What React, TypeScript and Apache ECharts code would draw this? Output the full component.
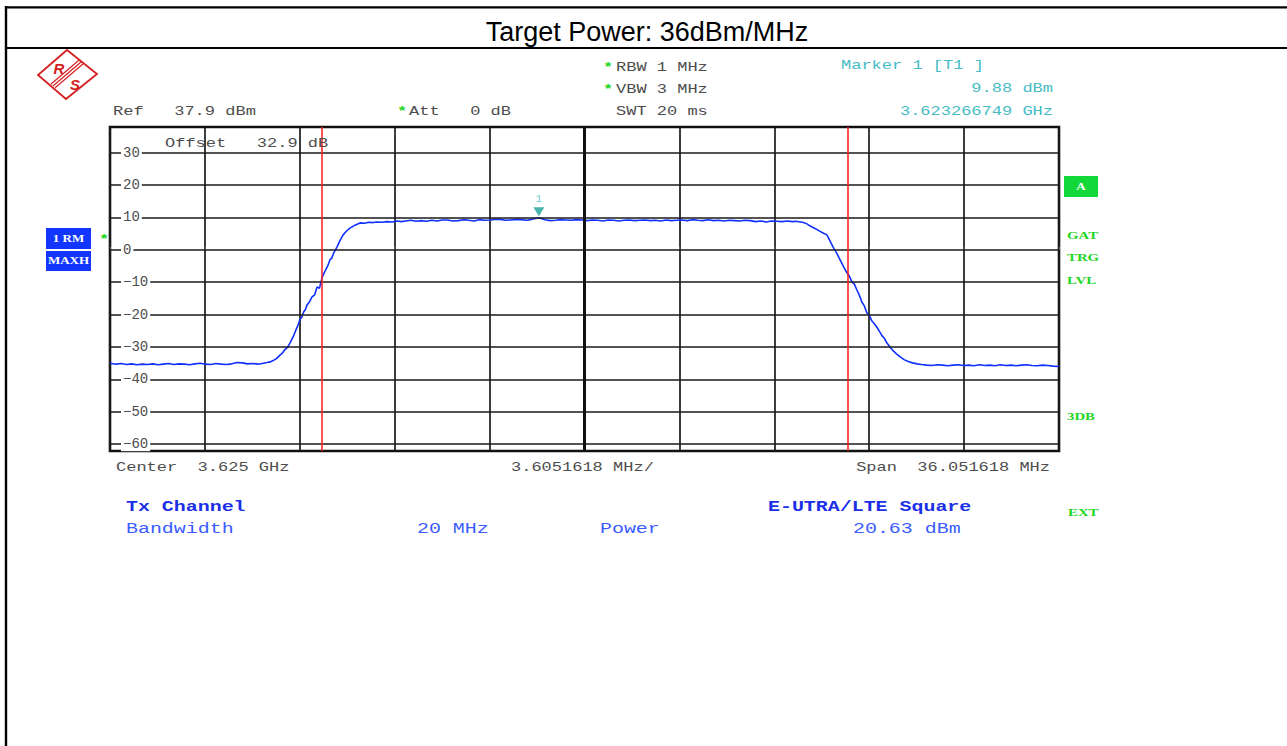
import React, { useEffect, useRef } from "react";
import * as echarts from "echarts";

// ---- data ----
const CENTER_MHZ = 3625;
const DIV_MHZ = 3.6051618; // span 36.051618 MHz / 10 divisions
const REF_LEVEL = 37.9;
const RANGE_DB = 100;
const Y_TICKS = [30, 20, 10, 0, -10, -20, -30, -40, -50, -60];
const CHANNEL_EDGES = [3615, 3635];
const MARKER_FREQ = 3623.266749;
const MARKER_LEVEL = 9.88;

const traceFreqs = [
  3606.98, 3607.2, 3607.4, 3607.6, 3607.8, 3608.0, 3608.2, 3608.4, 3608.6, 3608.8, 3609.0, 3609.2, 3609.4, 3609.6, 3609.8,
  3610.0, 3610.2, 3610.4, 3610.6, 3610.8, 3611.0, 3611.2, 3611.4, 3611.6, 3611.8, 3612.0, 3612.2, 3612.4, 3612.6, 3612.8,
  3612.94, 3613.06, 3613.17, 3613.3, 3613.43, 3613.52, 3613.62, 3613.72, 3613.81, 3613.93, 3614.05, 3614.12, 3614.19,
  3614.26, 3614.33, 3614.4, 3614.46, 3614.55, 3614.65, 3614.75, 3614.84, 3614.93, 3615.03,
  3615.1, 3615.18, 3615.25, 3615.33, 3615.4, 3615.47, 3615.6, 3615.72, 3615.83, 3615.96, 3616.09, 3616.28, 3616.47,
  3616.65, 3616.8, 3616.96, 3617.12, 3617.3, 3617.5, 3617.7, 3617.88,
  3618.05, 3618.2, 3618.4, 3618.6, 3618.8, 3619.0, 3619.2, 3619.4, 3619.6, 3619.8, 3620.0, 3620.2, 3620.4, 3620.6, 3620.8,
  3621.0, 3621.2, 3621.4, 3621.6, 3621.8, 3622.0, 3622.2, 3622.4, 3622.6, 3622.8, 3623.0, 3623.27, 3623.5,
  3623.7, 3623.9, 3624.1, 3624.3, 3624.5, 3624.7, 3624.9, 3625.1, 3625.3, 3625.5, 3625.7, 3625.9, 3626.1, 3626.3, 3626.5,
  3626.7, 3626.9, 3627.1, 3627.3, 3627.5, 3627.7, 3627.9, 3628.1, 3628.3, 3628.5, 3628.7, 3628.9, 3629.1, 3629.3, 3629.5,
  3629.7, 3629.9, 3630.1, 3630.3, 3630.5, 3630.7, 3630.9, 3631.1, 3631.3, 3631.5, 3631.7, 3631.9, 3632.1, 3632.3, 3632.5,
  3632.7, 3632.9, 3633.05,
  3633.19, 3633.32, 3633.45, 3633.56, 3633.68, 3633.82, 3633.95, 3634.08, 3634.21, 3634.32, 3634.44, 3634.58, 3634.71,
  3634.84, 3634.97, 3635.06, 3635.16, 3635.25, 3635.35, 3635.44, 3635.54, 3635.63, 3635.73, 3635.82, 3635.92, 3636.01,
  3636.11, 3636.2, 3636.3, 3636.4, 3636.49, 3636.6, 3636.73, 3636.85, 3636.98, 3637.14, 3637.3, 3637.46, 3637.63,
  3637.8, 3638.0, 3638.2, 3638.4, 3638.6, 3638.8, 3639.0, 3639.2, 3639.4, 3639.6, 3639.8, 3640.0, 3640.2, 3640.4, 3640.6,
  3640.8, 3641.0, 3641.2, 3641.4, 3641.6, 3641.8, 3642.0, 3642.2, 3642.4, 3642.6, 3642.8, 3643.02,
];
const traceLevels = [
  -35.0, -35.3, -35.1, -35.4, -35.2, -35.5, -35.3, -35.4, -35.2, -35.5, -35.3, -35.1, -35.4, -35.2, -35.3,
  -35.5, -35.2, -35.0, -35.3, -35.4, -35.1, -35.3, -35.4, -35.2, -34.8, -34.9, -35.2, -35.1, -35.3, -35.0,
  -34.8, -34.6, -34.2, -33.6, -32.5, -31.9, -30.8, -30.1, -28.8, -26.9, -24.5, -23.2, -21.5,
  -20.8, -19.2, -18.4, -17.0, -16.1, -14.5, -13.9, -11.5, -11.9, -8.6,
  -7.3, -6.0, -4.9, -3.1, -2.5, -1.0, 0.9, 3.0, 4.6, 5.8, 6.7, 7.6, 8.3,
  8.2, 8.5, 8.4, 8.6, 8.5, 8.7, 8.6, 8.9,
  8.7, 8.9, 9.1, 8.8, 9.0, 8.8, 9.1, 8.9, 9.2, 9.2, 8.9, 9.0, 9.3, 9.1, 8.9,
  9.3, 9.1, 9.2, 9.4, 9.4, 9.1, 9.2, 9.4, 9.3, 9.1, 9.4, 9.88, 9.3,
  9.0, 9.1, 9.3, 9.2, 9.1, 9.3, 9.2, 9.0, 9.2, 9.1, 8.9, 9.2, 9.1, 8.9, 9.1,
  9.2, 9.0, 9.1, 9.2, 9.0, 9.1, 8.9, 9.2, 9.0, 9.1, 9.2, 9.0, 9.3, 9.1, 9.0,
  9.3, 9.0, 9.1, 8.9, 9.1, 9.0, 8.9, 9.1, 9.0, 8.7, 8.9, 8.6, 8.9, 8.8, 8.7,
  8.9, 8.7, 8.8,
  8.6, 8.4, 8.0, 7.4, 6.9, 6.3, 5.7, 5.1, 4.6, 2.8, 0.9, -1.0, -3.1,
  -5.2, -7.1, -8.1, -9.9, -10.6, -12.4, -14.0, -16.2, -17.3, -19.5, -20.2, -22.0, -22.8,
  -23.9, -25.1, -26.5, -27.4, -28.8, -29.9, -31.2, -32.1, -33.0, -33.9, -34.5, -34.9, -35.2,
  -35.4, -35.6, -35.7, -35.5, -35.6, -35.8, -35.6, -35.5, -35.7, -35.6, -35.8, -35.5, -35.7, -35.6, -35.8,
  -35.5, -35.7, -35.6, -35.8, -35.6, -35.5, -35.7, -35.8, -35.6, -35.7, -35.9, -36.0,
];

const MONO = '"Liberation Mono", "DejaVu Sans Mono", monospace';
const GRAY = "#4d4d4d";
const TEAL = "#45bcc4";
const GREEN = "#22d622";
const BLUE_B = "#1a2fe6";
const BLUE_L = "#3a5cff";
const RED = "#d42020";

function mono(text: string, x: number, y: number, fill: string, opts: any = {}) {
  const size = opts.size ?? 13;
  return {
    type: "text",
    x,
    y,
    scaleX: opts.scaleX ?? 1.31,
    z: 50,
    style: {
      text,
      fill,
      font: `${opts.bold ? "bold " : ""}${size}px ${opts.family ?? MONO}`,
      textAlign: opts.align ?? "left",
      verticalAlign: "middle",
      textVerticalAlign: "middle",
    },
  };
}

function badge(text: string, x: number, y: number, w: number, h: number, bg: string) {
  return [
    { type: "rect", shape: { x, y, width: w, height: h }, style: { fill: bg }, z: 50 },
    {
      type: "text",
      x: x + w / 2,
      y: y + h / 2,
      scaleX: 1.3,
      z: 51,
      style: {
        text,
        fill: "#ffffff",
        font: 'bold 10px "Liberation Serif", serif',
        textAlign: "center",
        verticalAlign: "middle",
        textVerticalAlign: "middle",
      },
    },
  ];
}

function sideLabel(text: string, x: number, y: number) {
  return {
    type: "text",
    x,
    y,
    scaleX: 1.35,
    z: 50,
    style: {
      text,
      fill: GREEN,
      font: 'bold 11px "Liberation Serif", serif',
      textAlign: "left",
      verticalAlign: "middle",
      textVerticalAlign: "middle",
    },
  };
}

export default function App() {
  const ref = useRef<HTMLDivElement>(null);

  useEffect(() => {
    if (!ref.current) return;
    const chart = echarts.init(ref.current, undefined, { renderer: "svg" });

    const traceData = traceFreqs.map((f, i) => [f - CENTER_MHZ, traceLevels[i]]);

    // logo stripes
    const stripeBase = [
      [81, 62],
      [53, 86],
    ];
    const stripes = [-2.8, 0, 2.8].map((o) => ({
      type: "line",
      z: 50,
      shape: {
        x1: stripeBase[0][0] + o * 0.77,
        y1: stripeBase[0][1] + o * 0.64,
        x2: stripeBase[1][0] + o * 0.77,
        y2: stripeBase[1][1] + o * 0.64,
      },
      style: { stroke: RED, lineWidth: 1.2 },
    }));

    const graphic: any[] = [
      // page frame
      { type: "line", shape: { x1: 6, y1: 6, x2: 6, y2: 746 }, style: { stroke: "#000", lineWidth: 2.4 } },
      { type: "line", shape: { x1: 5, y1: 7.3, x2: 1287, y2: 7.3 }, style: { stroke: "#000", lineWidth: 2.2 } },
      { type: "line", shape: { x1: 5, y1: 48, x2: 1287, y2: 48 }, style: { stroke: "#000", lineWidth: 2.2 } },
      {
        type: "text",
        x: 647,
        y: 32,
        style: {
          text: "Target Power: 36dBm/MHz",
          fill: "#000",
          font: '27px "Liberation Sans", Arial, sans-serif',
          textAlign: "center",
          verticalAlign: "middle",
          textVerticalAlign: "middle",
        },
      },
      // logo
      {
        type: "polygon",
        z: 50,
        shape: { points: [[67, 50], [97, 74], [66, 99], [38, 75]] },
        style: { fill: "none", stroke: RED, lineWidth: 1.8 },
      },
      ...stripes,
      {
        type: "text",
        x: 59,
        y: 68,
        z: 50,
        style: { text: "R", fill: RED, font: 'bold italic 15px "Liberation Sans", sans-serif', textAlign: "center", verticalAlign: "middle", textVerticalAlign: "middle" },
      },
      {
        type: "text",
        x: 75,
        y: 84,
        z: 50,
        style: { text: "S", fill: RED, font: 'bold italic 15px "Liberation Sans", sans-serif', textAlign: "center", verticalAlign: "middle", textVerticalAlign: "middle" },
      },
      // header
      mono("Ref   37.9 dBm", 113, 112, GRAY),
      mono("*", 397, 112, GREEN, { bold: true }),
      mono("Att   0 dB", 409, 112, GRAY),
      mono("*", 603, 68, GREEN, { bold: true }),
      mono("RBW 1 MHz", 616, 68, GRAY),
      mono("*", 603, 90, GREEN, { bold: true }),
      mono("VBW 3 MHz", 616, 90, GRAY),
      mono("SWT 20 ms", 616, 112, GRAY),
      mono("Marker 1 [T1 ]", 841, 66, TEAL),
      mono("9.88 dBm", 1053, 89, TEAL, { align: "right" }),
      mono("3.623266749 GHz", 1053, 112, TEAL, { align: "right" }),
      mono("Offset   32.9 dB", 165, 144, GRAY),
      // left badges
      ...badge("1 RM", 46, 228, 45, 21, "#1236ff"),
      ...badge("MAXH", 46, 251, 45, 20, "#1236ff"),
      mono("*", 99, 240, GREEN, { bold: true }),
      // right labels
      ...badge("A", 1064, 176, 34, 21, "#12d83a"),
      sideLabel("GAT", 1067, 235),
      sideLabel("TRG", 1067, 257),
      sideLabel("LVL", 1067, 280),
      sideLabel("3DB", 1067, 416),
      sideLabel("EXT", 1068, 512),
      // footer
      mono("Center  3.625 GHz", 116, 468, GRAY),
      mono("3.6051618 MHz/", 511, 468, GRAY),
      mono("Span  36.051618 MHz", 1050, 468, GRAY, { align: "right" }),
      mono("Tx Channel", 126, 507, BLUE_B, { bold: true, size: 15, scaleX: 1.33 }),
      mono("E-UTRA/LTE Square", 768, 507, BLUE_B, { bold: true, size: 15, scaleX: 1.33 }),
      mono("Bandwidth", 126, 529, BLUE_L, { size: 15, scaleX: 1.33 }),
      mono("20 MHz", 417, 529, BLUE_L, { size: 15, scaleX: 1.33 }),
      mono("Power", 600, 529, BLUE_L, { size: 15, scaleX: 1.33 }),
      mono("20.63 dBm", 853, 529, BLUE_L, { size: 15, scaleX: 1.33 }),
    ];

    const option: any = {
      animation: false,
      backgroundColor: "#ffffff",
      grid: {
        left: 110,
        top: 127,
        width: 949,
        height: 324,
        show: true,
        borderColor: "#111",
        borderWidth: 2.6,
        backgroundColor: "transparent",
      },
      xAxis: {
        type: "value",
        min: -5 * DIV_MHZ,
        max: 5 * DIV_MHZ,
        interval: DIV_MHZ,
        axisLine: { show: false },
        axisLabel: { show: false },
        axisTick: { show: true, inside: true, length: 3, lineStyle: { color: "#666", width: 1 } },
        splitLine: { show: true, lineStyle: { color: "#1a1a1a", width: 1.7 } },
      },
      yAxis: {
        type: "value",
        min: REF_LEVEL - RANGE_DB,
        max: REF_LEVEL,
        z: 10,
        axisLine: { show: false },
        axisTick: { show: false },
        splitLine: { show: false },
        axisLabel: {
          customValues: Y_TICKS,
          inside: true,
          margin: 11,
          color: GRAY,
          fontFamily: MONO,
          fontSize: 14,
          backgroundColor: "#ffffff",
          padding: [0, 2, 0, 2],
          formatter: (v: number) => (v < 0 ? "\u2212" + Math.abs(v) : String(v)),
        },
      },
      graphic,
      series: [
        {
          name: "grid",
          type: "line",
          data: [],
          z: 1,
          silent: true,
          markLine: {
            silent: true,
            symbol: ["none", "none"],
            animation: false,
            label: { show: false },
            data: [
              ...Y_TICKS.map((v) => ({ yAxis: v, lineStyle: { color: "#1a1a1a", width: 1.6, type: "solid" } })),
              { xAxis: 0, lineStyle: { color: "#111", width: 3, type: "solid" } },
            ],
          },
        },
        {
          name: "channel",
          type: "line",
          data: [],
          z: 2,
          silent: true,
          markLine: {
            silent: true,
            symbol: ["none", "none"],
            animation: false,
            label: { show: false },
            lineStyle: { color: "#ff1a1a", width: 1.5, type: "solid" },
            data: CHANNEL_EDGES.map((f) => ({ xAxis: f - CENTER_MHZ })),
          },
        },
        {
          name: "trace",
          type: "line",
          z: 3,
          data: traceData,
          showSymbol: false,
          symbol: "none",
          lineStyle: { color: "#1030ff", width: 1.6 },
        },
        {
          name: "marker",
          type: "scatter",
          z: 4,
          data: [[MARKER_FREQ - CENTER_MHZ, MARKER_LEVEL]],
          symbol: "triangle",
          symbolRotate: 180,
          symbolSize: [11, 9],
          symbolOffset: [0, -6],
          itemStyle: { color: "#1aa39c" },
          label: {
            show: true,
            formatter: "1",
            position: "top",
            distance: 3,
            color: TEAL,
            fontFamily: MONO,
            fontSize: 11,
          },
        },
      ],
    };

    chart.setOption(option);
    return () => chart.dispose();
  }, []);

  return (
    <div
      ref={ref}
      style={{ position: "fixed", left: 0, top: 0, width: 1287, height: 746, background: "#fff" }}
    />
  );
}
